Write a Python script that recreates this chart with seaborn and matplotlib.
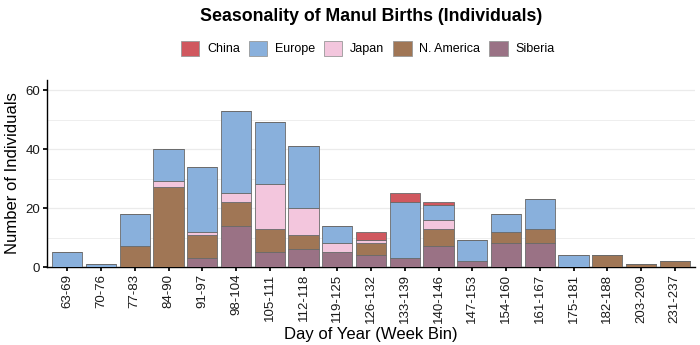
import numpy as np
import pandas as pd
import matplotlib
matplotlib.use("Agg")
import matplotlib.pyplot as plt
import seaborn as sns
from matplotlib.patches import Patch

bins = ["63-69", "70-76", "77-83", "84-90", "91-97", "98-104", "105-111", "112-118",
        "119-125", "126-132", "133-139", "140-146", "147-153", "154-160", "161-167",
        "175-181", "182-188", "203-209", "231-237"]
siberia   = [0, 0, 0, 0, 3, 14, 5, 6, 5, 4, 3, 7, 2, 8, 8, 0, 0, 0, 0]
n_america = [0, 0, 7, 27, 8, 8, 8, 5, 0, 4, 0, 6, 0, 4, 5, 0, 4, 1, 2]
japan     = [0, 0, 0, 2, 1, 3, 15, 9, 3, 1, 0, 3, 0, 0, 0, 0, 0, 0, 0]
europe    = [5, 1, 11, 11, 22, 28, 21, 21, 6, 0, 19, 5, 7, 6, 10, 4, 0, 0, 0]
china     = [0, 0, 0, 0, 0, 0, 0, 0, 0, 3, 3, 1, 0, 0, 0, 0, 0, 0, 0]

series = [("Siberia", siberia, "#9a7285"),
          ("N. America", n_america, "#a07655"),
          ("Japan", japan, "#f3c6dd"),
          ("Europe", europe, "#89b0dc"),
          ("China", china, "#d0585f")]

sns.set_theme(style="white")
plt.rcParams['font.family'] = ['Liberation Sans', 'DejaVu Sans']

fig = plt.figure(figsize=(7, 3.45), dpi=100)
ax = fig.add_axes([47/700, 78/345, 648/700, 187/345])

bottom = np.zeros(len(bins))
for name, vals, col in series:
    df = pd.DataFrame({"bin": bins, "n": vals})
    sns.barplot(data=df, x="bin", y="n", color=col, bottom=bottom, width=0.9,
                edgecolor="#6a6a6a", linewidth=0.6, saturation=1, ax=ax, zorder=3)
    bottom = bottom + np.array(vals)

ax.set_xlim(-0.6, len(bins) - 0.4)
ax.set_ylim(0, 63.4)
ax.set_yticks([0, 20, 40, 60])
for y in [10, 20, 30, 40, 50, 60]:
    ax.axhline(y, color="#ebebeb", lw=0.9 if y % 20 == 0 else 0.6, zorder=0)
for s in ["top", "right"]:
    ax.spines[s].set_visible(False)
for s in ["left", "bottom"]:
    ax.spines[s].set_color("black")
    ax.spines[s].set_linewidth(1.0)
ax.tick_params(axis="both", which="both", length=3, color="black", labelsize=9.5,
               labelcolor="#1a1a1a", bottom=True, left=True, pad=2)
ax.tick_params(axis="x", rotation=90)
ax.set_xlabel("Day of Year (Week Bin)", fontsize=12, labelpad=3, color="black")
ax.set_ylabel("Number of Individuals", fontsize=12, labelpad=4, color="black")

fig.text(0.53, 0.953, "Seasonality of Manul Births (Individuals)", ha="center", va="center",
         fontsize=12.8, fontweight="bold", color="black")

legend_order = [("China", "#d0585f"), ("Europe", "#89b0dc"), ("Japan", "#f3c6dd"),
                ("N. America", "#a07655"), ("Siberia", "#9a7285")]
handles = [Patch(facecolor=c, edgecolor="#999999", linewidth=0.6, label=n) for n, c in legend_order]
fig.legend(handles=handles, loc="center", bbox_to_anchor=(0.525, 0.86), ncol=5, frameon=False,
           fontsize=9, handlelength=1.5, handleheight=1.5, columnspacing=0.7, handletextpad=0.6,
           labelcolor="black")

fig.savefig("out.png", dpi=100, facecolor="white")
